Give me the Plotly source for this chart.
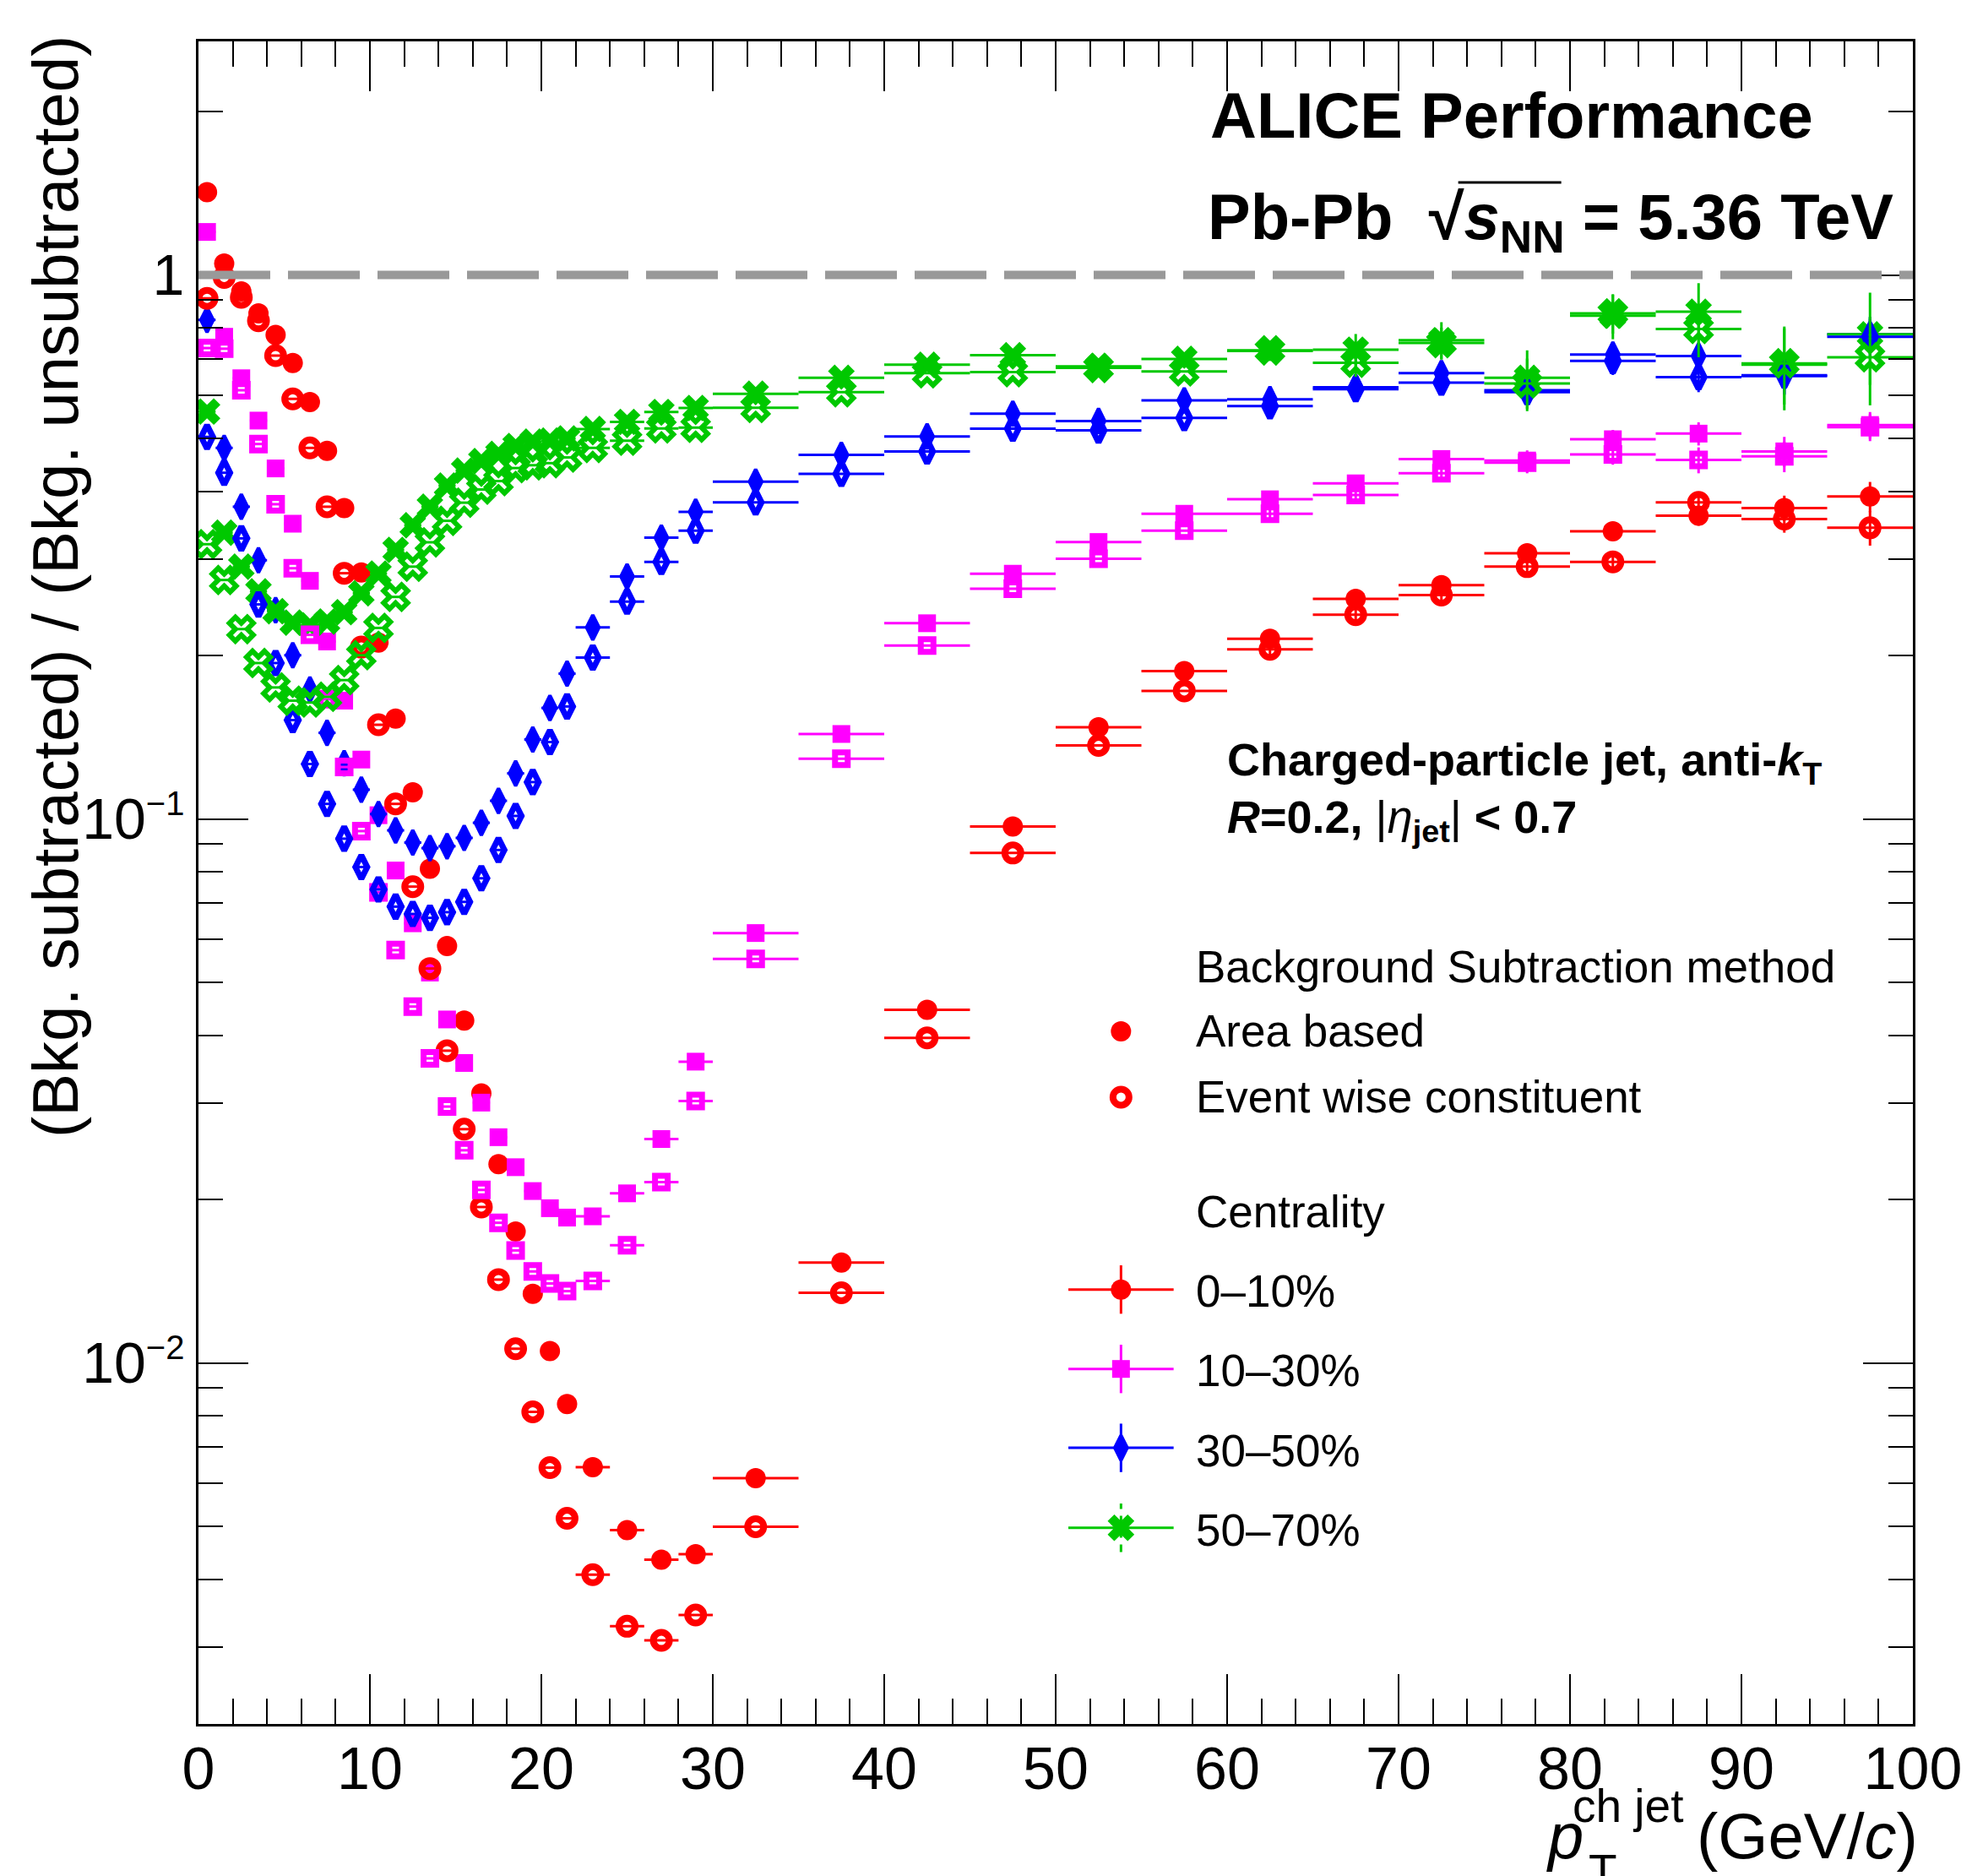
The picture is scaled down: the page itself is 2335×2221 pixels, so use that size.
import plotly.graph_objects as go

# ---------------- data ----------------
# bin edges in p_T^{ch jet} (GeV/c)
bin_edges = list(range(0, 23)) + [24, 26, 28, 30] + list(range(35, 101, 5))
pt = [(a + b) / 2 for a, b in zip(bin_edges[:-1], bin_edges[1:])]
pt_halfwidth = [(b - a) / 2 for a, b in zip(bin_edges[:-1], bin_edges[1:])]

# ratio (Bkg. subtracted)/(Bkg. unsubtracted), area based method
c0010_area = [1.42, 1.05, 0.933, 0.85, 0.776, 0.689, 0.584, 0.475, 0.373, 0.284,
              0.211, 0.153, 0.112, 0.081, 0.0584, 0.0426, 0.0313, 0.0232, 0.01744, 0.0134,
              0.01052, 0.0084, 0.00643, 0.00493, 0.00435, 0.00445, 0.00614, 0.0153, 0.0446, 0.0969,
              0.1475, 0.187, 0.2145, 0.254, 0.269, 0.308, 0.338, 0.361, 0.373, 0.3915]
c1030_area = [1.20, 0.770, 0.646, 0.540, 0.441, 0.349, 0.274, 0.212, 0.165, 0.1286,
              0.1016, 0.0804, 0.0643, 0.0522, 0.0428, 0.0356, 0.0301, 0.0260, 0.0229, 0.0207,
              0.01925, 0.0185, 0.0186, 0.0205, 0.0258, 0.0358, 0.0617, 0.1433, 0.229, 0.2824,
              0.323, 0.364, 0.387, 0.414, 0.459, 0.456, 0.499, 0.511, 0.474, 0.530]
c3050_area = [0.827, 0.481, 0.375, 0.299, 0.242, 0.200, 0.173, 0.144, 0.1266, 0.1132,
              0.1021, 0.0953, 0.0905, 0.0884, 0.0891, 0.0923, 0.0984, 0.108, 0.1213, 0.140,
              0.160, 0.185, 0.225, 0.279, 0.329, 0.367, 0.417, 0.467, 0.505, 0.556,
              0.539, 0.588, 0.591, 0.622, 0.660, 0.614, 0.714, 0.710, 0.652, 0.778]
c5070_area = [0.561, 0.336, 0.291, 0.262, 0.241, 0.2296, 0.227, 0.2307, 0.240, 0.260,
              0.2826, 0.3124, 0.3467, 0.375, 0.410, 0.437, 0.455, 0.469, 0.485, 0.494,
              0.496, 0.5005, 0.521, 0.537, 0.56, 0.5696, 0.605, 0.647, 0.684, 0.712,
              0.679, 0.701, 0.725, 0.729, 0.759, 0.647, 0.842, 0.856, 0.684, 0.778]

# event wise constituent method
c0010_evw = [0.906, 0.99, 0.91, 0.824, 0.711, 0.592, 0.481, 0.375, 0.283, 0.207,
             0.149, 0.1066, 0.0751, 0.0531, 0.0375, 0.0269, 0.01935, 0.01423, 0.01062, 0.00813,
             0.00642, 0.00518, 0.00408, 0.00328, 0.00309, 0.00344, 0.0050, 0.01346, 0.0396, 0.0866,
             0.1365, 0.172, 0.205, 0.2375, 0.258, 0.291, 0.297, 0.382, 0.356, 0.343]
c1030_evw = [0.734, 0.732, 0.614, 0.489, 0.379, 0.289, 0.218, 0.166, 0.1246, 0.0950,
             0.0733, 0.0574, 0.0452, 0.0363, 0.0296, 0.0246, 0.0208, 0.0181, 0.0161, 0.01473,
             0.0140, 0.01355, 0.01415, 0.01646, 0.0215, 0.0303, 0.0553, 0.129, 0.2084, 0.265,
             0.301, 0.339, 0.364, 0.394, 0.432, 0.452, 0.468, 0.457, 0.464, 0.525]
c3050_evw = [0.504, 0.433, 0.328, 0.248, 0.1935, 0.152, 0.1262, 0.1066, 0.092, 0.0816,
             0.0742, 0.0690, 0.0669, 0.0658, 0.0674, 0.0704, 0.0778, 0.0877, 0.1013, 0.1169,
             0.1385, 0.161, 0.198, 0.251, 0.297, 0.339, 0.382, 0.431, 0.474, 0.522,
             0.518, 0.546, 0.574, 0.617, 0.634, 0.609, 0.695, 0.649, 0.654, 0.77]
c5070_evw = [0.320, 0.275, 0.2234, 0.1935, 0.1745, 0.165, 0.1637, 0.1677, 0.180, 0.200,
             0.2245, 0.256, 0.291, 0.3226, 0.3533, 0.3815, 0.4034, 0.418, 0.4417, 0.447,
             0.451, 0.462, 0.481, 0.496, 0.5225, 0.524, 0.570, 0.609, 0.660, 0.663,
             0.675, 0.665, 0.727, 0.690, 0.75, 0.632, 0.85, 0.796, 0.688, 0.706]

# statistical uncertainties (only visible for the last 8 bins, 60-100 GeV/c)
n_low = len(pt) - 8
err_c0010 = [0] * n_low + [0.005, 0.008, 0.010, 0.010, 0.012, 0.015, 0.020, 0.025]
err_c1030 = [0] * n_low + [0.010, 0.010, 0.015, 0.020, 0.020, 0.025, 0.030, 0.030]
err_c3050 = [0] * n_low + [0.020, 0.020, 0.030, 0.030, 0.040, 0.040, 0.050, 0.060]
err_c5070_area = [0] * n_low + [0.030, 0.050, 0.060, 0.080, 0.080, 0.110, 0.120, 0.150]
err_c5070_evw = [0] * n_low + [0.030, 0.040, 0.050, 0.070, 0.070, 0.090, 0.110, 0.130]

centralities = ["0\u201310%", "10\u201330%", "30\u201350%", "50\u201370%"]
methods = ["Area based", "Event wise constituent"]

series = {
    ("0\u201310%", "Area based"): (c0010_area, err_c0010),
    ("10\u201330%", "Area based"): (c1030_area, err_c1030),
    ("30\u201350%", "Area based"): (c3050_area, err_c3050),
    ("50\u201370%", "Area based"): (c5070_area, err_c5070_area),
    ("0\u201310%", "Event wise constituent"): (c0010_evw, err_c0010),
    ("10\u201330%", "Event wise constituent"): (c1030_evw, err_c1030),
    ("30\u201350%", "Event wise constituent"): (c3050_evw, err_c3050),
    ("50\u201370%", "Event wise constituent"): (c5070_evw, err_c5070_evw),
}

# ---------------- styles ----------------
FONT = "Liberation Sans"
colors = {"0\u201310%": "#ff0000", "10\u201330%": "#ff00ff",
          "30\u201350%": "#0000ff", "50\u201370%": "#00c800"}
mk_filled = {
    "0\u201310%": dict(symbol="circle", size=24, line_width=0),
    "10\u201330%": dict(symbol="square", size=21, line_width=0),
    "30\u201350%": dict(symbol="diamond-tall", size=21, line_width=4),
    "50\u201370%": dict(symbol="x", size=28, line_width=0),
}
mk_open = {
    "0\u201310%": dict(symbol="circle-open", size=19, line_width=8),
    "10\u201330%": dict(symbol="square-open", size=15, line_width=7),
    "30\u201350%": dict(symbol="diamond-tall-open", size=20, line_width=7),
    "50\u201370%": dict(symbol="x-open", size=25, line_width=6),
}

fig = go.Figure()

for method in methods:
    for cen in centralities:
        yv, ye = series[(cen, method)]
        c = colors[cen]
        ms = mk_filled[cen] if method == "Area based" else mk_open[cen]
        fig.add_trace(go.Scatter(
            x=pt, y=yv, mode="markers", name=f"{cen} {method}",
            marker=dict(symbol=ms["symbol"], size=ms["size"], color=c,
                        line=dict(width=ms["line_width"], color=c)),
            error_x=dict(type="data", array=pt_halfwidth, symmetric=True,
                         thickness=3, width=0, color=c),
            error_y=dict(type="data", array=ye, symmetric=True,
                         thickness=3, width=0, color=c),
            showlegend=False,
        ))

# ---------------- hand-made legend (on an overlay axis spanning the plot area) ----
leg_x = 0.5381
leg_line_half = 0.0307
leg_bar_half = 0.0144
leg_method_y = {"Area based": 0.4116, "Event wise constituent": 0.3725}
leg_cent_y = {"0\u201310%": 0.2582, "10\u201330%": 0.2110,
              "30\u201350%": 0.1641, "50\u201370%": 0.1166}
for method, yy in leg_method_y.items():
    ms = mk_filled["0\u201310%"] if method == "Area based" else mk_open["0\u201310%"]
    fig.add_trace(go.Scatter(
        x=[leg_x], y=[yy], xaxis="x2", yaxis="y2", mode="markers", showlegend=False,
        marker=dict(symbol=ms["symbol"], size=ms["size"], color="#ff0000",
                    line=dict(width=ms["line_width"], color="#ff0000")),
        hoverinfo="skip"))
for cen, yy in leg_cent_y.items():
    ms = mk_filled[cen]
    c = colors[cen]
    dashed_bar = cen == "50\u201370%"
    if dashed_bar:
        fig.add_shape(type="line", xref="paper", yref="paper", x0=leg_x, x1=leg_x,
                      y0=yy - leg_bar_half, y1=yy + leg_bar_half, layer="below",
                      line=dict(color=c, width=3, dash="9px,8px"))
    fig.add_trace(go.Scatter(
        x=[leg_x], y=[yy], xaxis="x2", yaxis="y2", mode="markers", showlegend=False,
        marker=dict(symbol=ms["symbol"], size=ms["size"], color=c,
                    line=dict(width=ms["line_width"], color=c)),
        error_x=dict(type="constant", value=leg_line_half, thickness=3, width=0, color=c),
        error_y=dict(type="constant", value=leg_bar_half, thickness=3, width=0, color=c,
                     visible=not dashed_bar),
        hoverinfo="skip"))

# ---------------- axes ----------------
major_y = [0.01, 0.1, 1]
minor_y = [m * 10.0 ** d for d in (-3, -2, -1, 0) for m in range(2, 10)]
EXP = "<sup><span style='font-size:40px'>\u2212{}</span></sup>"
fig.update_layout(
    width=2335, height=2221, autosize=False,
    margin=dict(l=235, r=68, t=49, b=180, pad=0),
    paper_bgcolor="white", plot_bgcolor="white",
    font=dict(family=FONT, color="black"),
    xaxis=dict(range=[0, 100], showline=True, linewidth=3, linecolor="black",
               mirror="ticks", ticks="inside", ticklen=59, tickwidth=2, tickcolor="black",
               tickvals=list(range(0, 101, 10)), tickfont=dict(size=70, family=FONT),
               ticklabelstandoff=-10,
               minor=dict(ticks="inside", ticklen=30, tickwidth=2, tickcolor="black",
                          tick0=0, dtick=2),
               showgrid=False, zeroline=False),
    yaxis=dict(type="log", range=[-2.6637, 0.4295], showline=True, linewidth=3,
               linecolor="black", mirror="ticks", ticks="inside", ticklen=59, tickwidth=2,
               tickcolor="black", tickvals=major_y,
               ticktext=["10" + EXP.format(2), "10" + EXP.format(1), "1"],
               tickfont=dict(size=68, family=FONT),
               minor=dict(ticks="inside", ticklen=29, tickwidth=2, tickcolor="black",
                          tickvals=minor_y),
               showgrid=False, zeroline=False),
    xaxis2=dict(overlaying="x", anchor="y2", range=[0, 1], visible=False, fixedrange=True),
    yaxis2=dict(overlaying="y", anchor="x2", range=[0, 1], visible=False, fixedrange=True),
)

fig.add_hline(y=1, line=dict(color="#999999", width=10, dash="85px,21px"), layer="above")


def ann(text, x, y, size, xanchor="left", yanchor="top", **kw):
    fig.add_annotation(text=text, x=x, y=y, xref="paper", yref="paper",
                       xanchor=xanchor, yanchor=yanchor, showarrow=False,
                       font=dict(family=FONT, size=size, color="black"), **kw)


ann("<b>ALICE Performance</b>", 0.589, 0.9785, 76)
ann("<b>Pb-Pb&nbsp;&nbsp;\u221a<i>s</i><sub>NN</sub> = 5.36 TeV</b>", 0.5876, 0.9182, 76)
fig.add_shape(type="line", xref="paper", yref="paper", x0=0.7348, x1=0.7949,
              y0=0.9162, y1=0.9162, line=dict(color="black", width=3))

ann("<b>Charged-particle jet, anti-<i>k</i><sub>T</sub></b>", 0.5991, 0.5894, 54)
ann("<b><i>R</i>=0.2, </b>|<i>\u03b7</i><sub><b>jet</b></sub>|<b> &lt; 0.7</b>",
    0.5991, 0.5552, 54)

ann("Background Subtraction method", 0.5809, 0.4659, 53)
ann("Area based", 0.5809, 0.4277, 53)
ann("Event wise constituent", 0.5809, 0.3886, 53)
ann("Centrality", 0.5809, 0.3205, 53)
for cen, yy in zip(centralities, [0.2731, 0.2259, 0.1782, 0.1308]):
    ann(cen, 0.5809, yy, 53)

# axis titles
ann("(Bkg. subtracted) / (Bkg. unsubtracted)", -0.0835, 1.0045, 76,
    xanchor="center", yanchor="top", textangle=-90)
ann("(GeV/<i>c</i>)", 1.004, -0.04428, 76, xanchor="right")
ann("<i>p</i>", 0.785, -0.04428, 76)
ann("ch jet", 0.8007, -0.0322, 55)
ann("T", 0.810, -0.07088, 55)

fig.write_html("out.html", config={"displayModeBar": False},
               post_script="document.body.style.margin='0';")
